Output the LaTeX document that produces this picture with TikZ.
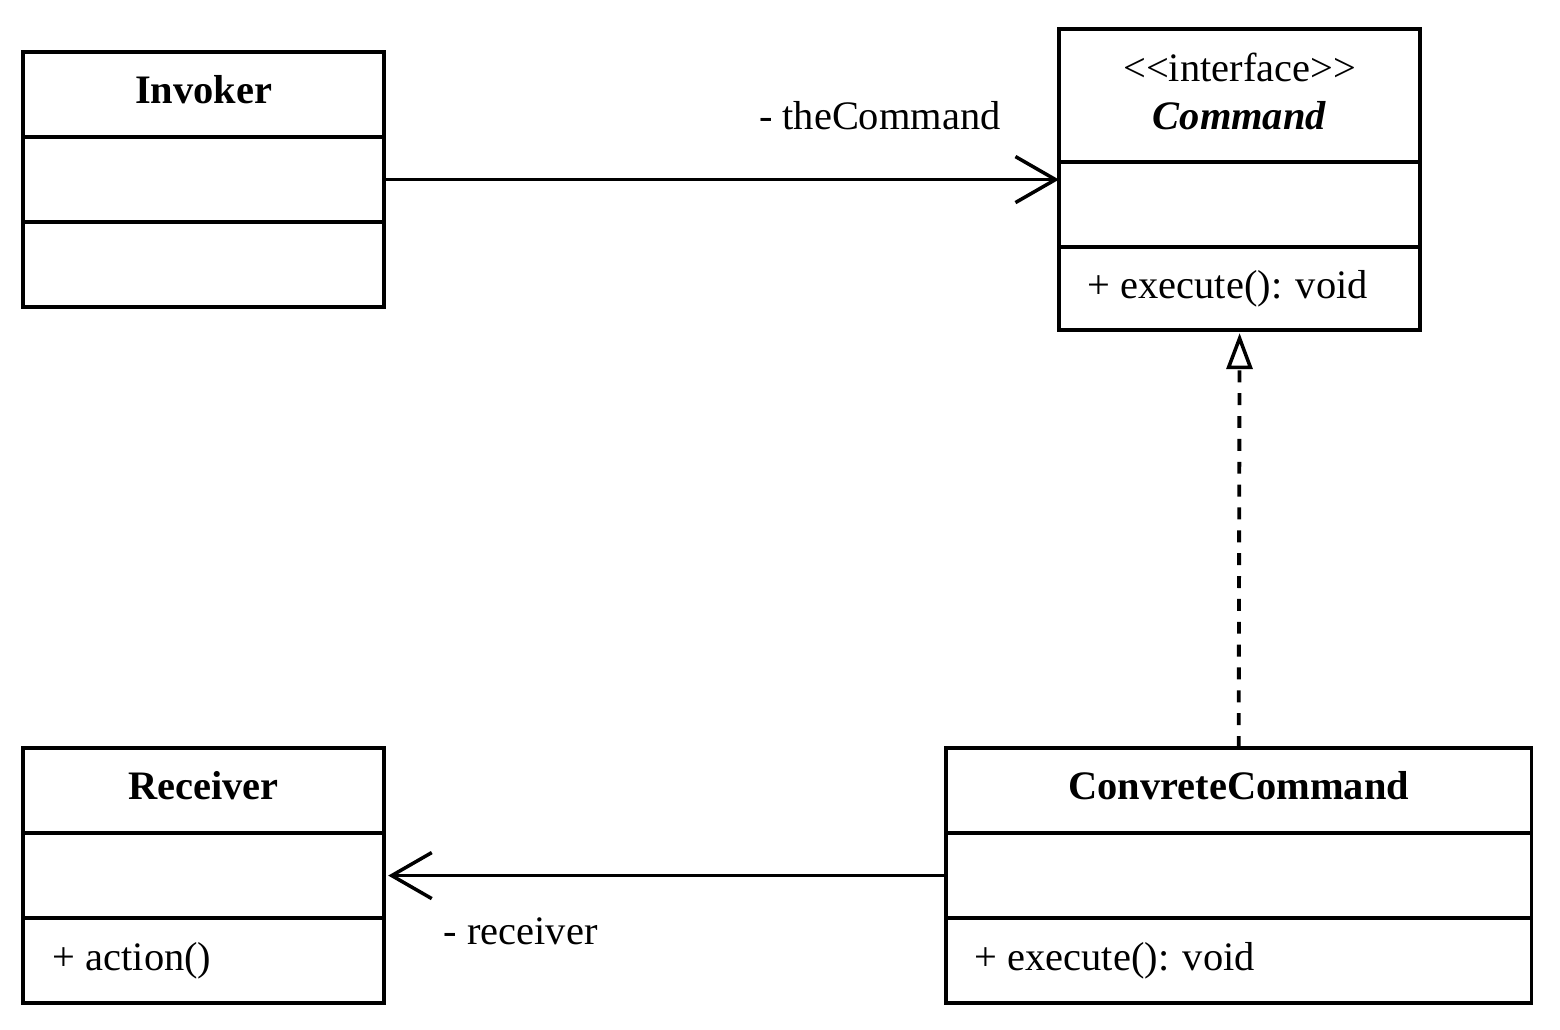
\documentclass[tikz,border=0pt]{standalone}
\usepackage{fontspec}
\setmainfont{Liberation Serif}
\usetikzlibrary{positioning}
\usetikzlibrary{arrows.meta}
\newcommand\boxwidth{3.61cm}
\newcommand\ccwidth{5.85cm}
\newcommand\rowheight{0.85cm}
\tikzset{
    classbox/.style = {draw, line width=1pt, minimum width=\boxwidth, minimum height=\rowheight, inner sep=0pt, outer sep=0pt, anchor=north west},
    headbox/.style = {classbox, text depth=2.6pt},
    member/.style = {inner sep=0pt, anchor=west},
    assoc/.style = {line width=1pt, -{Straight Barb[length=4mm,width=4.6mm,line width=1pt]}},
    realize/.style = {line width=1.1pt, dash pattern=on 3.4pt off 3.1pt, -{Triangle[open,length=3.6mm,width=2.6mm,line width=1pt]}},
}

\begin{document}
\begin{tikzpicture}[x=0.01cm, y=-0.01cm, font=\fontsize{11.5}{13.6}\selectfont]
         \useasboundingbox (0,0) rectangle (1560,1030);
         % --- Invoker
         \node[headbox] (inv) at (23,52) {\textbf{Invoker}};
         \node[classbox] (invattr) at (inv.south west) {};
         \node[classbox] (invops) at (invattr.south west) {};
         % --- Command
         \node[headbox, minimum height=1.33cm, align=center] (cmd) at (1059,29) {<\kern0pt<interface>\kern0pt>\\\textbf{\textit{Command}}};
         \node[classbox] (cmdattr) at (cmd.south west) {};
         \node[classbox, minimum height=0.83cm] (cmdops) at (cmdattr.south west) {};
         \node[member, right=0.28cm of cmdops.west] (cmdexec) {+ execute(): void};
         % --- Receiver
         \node[headbox] (rec) at (23,748) {\textbf{Receiver}};
         \node[classbox] (recattr) at (rec.south west) {};
         \node[classbox] (recops) at (recattr.south west) {};
         \node[member, right=0.29cm of recops.west] (recaction) {+ action()};
         % --- ConvreteCommand
         \node[headbox, minimum width=\ccwidth] (cc) at (946,748) {\textbf{ConvreteCommand}};
         \node[classbox, minimum width=\ccwidth] (ccattr) at (cc.south west) {};
         \node[classbox, minimum width=\ccwidth] (ccops) at (ccattr.south west) {};
         \node[member, right=0.28cm of ccops.west] (ccexec) {+ execute(): void};
         % --- Associations
         \draw[assoc] (invattr.east) -- (invattr.east -| cmd.west)
               node[pos=1, anchor=east, xshift=-0.45cm, yshift=0.64cm] (lblcmd) {- theCommand};
         \draw[assoc] (ccattr.west) -- ([xshift=0.04cm]recattr.east)
               node[pos=1, anchor=west, xshift=0.42cm, yshift=-0.56cm] (lblrec) {- receiver};
         % --- Realization
         \draw[realize] (cc.north) -- ([yshift=-0.03cm]cmdops.south);
       \end{tikzpicture}
\end{document}
